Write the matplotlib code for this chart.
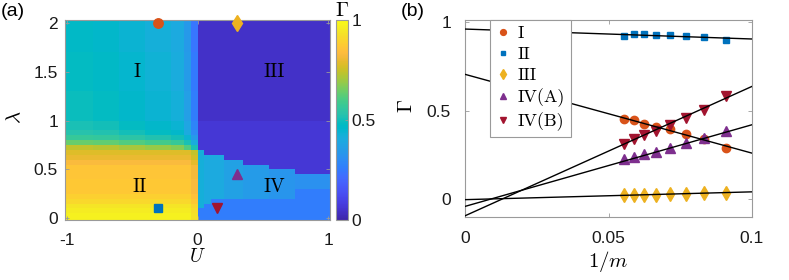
import numpy as np
import matplotlib
matplotlib.use('Agg')
import matplotlib.pyplot as plt
from matplotlib.colors import LinearSegmentedColormap

plt.rcParams['mathtext.fontset'] = 'cm'
plt.rcParams['font.family'] = ['Liberation Sans', 'DejaVu Sans']

# ---------------- data: panel (a) phase diagram ----------------
# U < 0 side: bands in lambda (upper edge of each band) and Gamma
left_lam_upper = [0.05, 0.10, 0.15, 0.20, 0.25, 0.40, 0.55, 0.60, 0.65, 0.70,
                  0.75, 0.80, 0.85, 0.90, 1.00, 1.30, 1.70, 2.10]
left_gamma = [0.97, 0.96, 0.94, 0.91, 0.89, 0.87, 0.86, 0.83, 0.80, 0.78,
              0.71, 0.61, 0.54, 0.50, 0.48, 0.46, 0.45, 0.44]
left_U_upper = [-0.80, -0.60, -0.40, -0.20, -0.10, -0.05, 0.00]
offset_I = [0.03, 0.02, 0.00, -0.02, -0.04, -0.10, -0.20]
offset_II = [0.00, 0.00, 0.00, 0.00, 0.00, 0.00, -0.04]
II_top = 0.70
# U > 0 side
right_U_upper = [0.05, 0.20, 0.35, 0.55, 0.75, 1.10]
IV_top = [0.70, 0.65, 0.60, 0.55, 0.50, 0.45]
IV_upper_gamma = [0.42, 0.40, 0.37, 0.35, 0.33, 0.32]
band_U_upper = [0.05, 0.10, 0.75, 1.10]
band_top = [0.10, 0.15, 0.20, 0.30]
IV_lower_gamma = 0.26
III_lam_upper = [1.00, 2.10]
III_gamma = [0.065, 0.045]

# chosen points
pt_U = [-0.3, -0.3, 0.3, 0.3, 0.15]
pt_lam = [2.0, 0.1, 2.0, 0.45, 0.1]
pt_marker = ['o', 's', 'd', '^', 'v']
pt_size = [6.8, 5.4, 8.5, 7.5, 7.5]

region_text = ['I', 'II', 'III', 'IV']
region_U = [-0.46, -0.44, 0.59, 0.59]
region_lam = [1.5, 0.32, 1.5, 0.32]

# ---------------- data: panel (b) extrapolation ----------------
m_vals = [18, 17, 16, 15, 14, 13, 12, 11]
gamma_I = [0.455, 0.445, 0.424, 0.405, 0.398, 0.369, 0.341, 0.290]
gamma_II = [0.922, 0.930, 0.930, 0.928, 0.926, 0.920, 0.916, 0.899]
gamma_III = [0.023, 0.023, 0.027, 0.027, 0.028, 0.032, 0.036, 0.038]
gamma_IVA = [0.226, 0.240, 0.254, 0.268, 0.291, 0.316, 0.348, 0.384]
gamma_IVB = [0.311, 0.339, 0.360, 0.386, 0.416, 0.458, 0.503, 0.580]
fit_intercept = [0.704, 0.959, -0.002, -0.040, -0.093]
fit_slope = [-4.44, -0.56, 0.44, 4.60, 7.29]
series_labels = ['I', 'II', 'III', 'IV(A)', 'IV(B)']

colors = ['#D95319', '#0072BD', '#EDB120', '#7E2F8E', '#A2142F']

parula_list = [
 [0.2422,0.1504,0.6603],[0.2504,0.1650,0.7076],[0.2578,0.1818,0.7511],[0.2647,0.1978,0.7952],
 [0.2706,0.2147,0.8364],[0.2751,0.2342,0.8710],[0.2783,0.2559,0.8991],[0.2803,0.2782,0.9221],
 [0.2813,0.3006,0.9414],[0.2810,0.3228,0.9579],[0.2795,0.3447,0.9717],[0.2760,0.3667,0.9829],
 [0.2699,0.3892,0.9906],[0.2602,0.4123,0.9952],[0.2440,0.4358,0.9988],[0.2206,0.4603,0.9973],
 [0.1963,0.4847,0.9892],[0.1834,0.5074,0.9798],[0.1786,0.5289,0.9682],[0.1764,0.5499,0.9520],
 [0.1687,0.5703,0.9359],[0.1540,0.5902,0.9218],[0.1460,0.6091,0.9079],[0.1380,0.6276,0.8973],
 [0.1248,0.6459,0.8883],[0.1113,0.6635,0.8763],[0.0952,0.6798,0.8598],[0.0689,0.6948,0.8394],
 [0.0297,0.7082,0.8163],[0.0036,0.7203,0.7917],[0.0067,0.7312,0.7660],[0.0433,0.7411,0.7394],
 [0.0964,0.7500,0.7120],[0.1408,0.7584,0.6842],[0.1717,0.7670,0.6554],[0.1938,0.7758,0.6251],
 [0.2161,0.7843,0.5923],[0.2470,0.7918,0.5567],[0.2906,0.7973,0.5188],[0.3406,0.8008,0.4789],
 [0.3909,0.8029,0.4354],[0.4456,0.8024,0.3909],[0.5044,0.7993,0.3480],[0.5616,0.7942,0.3045],
 [0.6174,0.7876,0.2612],[0.6720,0.7793,0.2227],[0.7242,0.7698,0.1910],[0.7738,0.7598,0.1646],
 [0.8203,0.7498,0.1535],[0.8634,0.7406,0.1596],[0.9035,0.7330,0.1774],[0.9393,0.7288,0.2100],
 [0.9728,0.7298,0.2394],[0.9956,0.7434,0.2371],[0.9970,0.7659,0.2199],[0.9952,0.7893,0.2028],
 [0.9892,0.8136,0.1885],[0.9786,0.8386,0.1766],[0.9676,0.8639,0.1643],[0.9610,0.8890,0.1537],
 [0.9597,0.9135,0.1423],[0.9628,0.9373,0.1265],[0.9691,0.9606,0.1064],[0.9769,0.9839,0.0805]]
parula = LinearSegmentedColormap.from_list('parula', parula_list, N=256)

# ---------------- build grid ----------------
U_edges = np.round(np.arange(-1.05, 1.0501, 0.05), 4)
lam_edges = np.round(np.arange(-0.05, 2.0501, 0.05), 4)
Uc = 0.5 * (U_edges[:-1] + U_edges[1:])
Lc = 0.5 * (lam_edges[:-1] + lam_edges[1:])


def pick(uppers, vals, x):
    i = int(np.searchsorted(uppers, x, side='right'))
    return vals[min(i, len(vals) - 1)]


Z = np.zeros((len(Lc), len(Uc)))
for j, lc in enumerate(Lc):
    for i, uc in enumerate(Uc):
        if uc < 0:
            base = pick(left_lam_upper, left_gamma, lc)
            if lc < II_top:
                Z[j, i] = base + pick(left_U_upper, offset_II, uc)
            else:
                Z[j, i] = base + pick(left_U_upper, offset_I, uc)
        else:
            if lc < pick(band_U_upper, band_top, uc):
                Z[j, i] = IV_lower_gamma
            elif lc < pick(right_U_upper, IV_top, uc):
                Z[j, i] = pick(right_U_upper, IV_upper_gamma, uc)
            else:
                Z[j, i] = pick(III_lam_upper, III_gamma, lc)

# ---------------- figure ----------------
W, H = 789, 280
fig = plt.figure(figsize=(W / 100, H / 100), dpi=100)


def fx(px):
    return px / W


def fy(py):
    return 1 - py / H


frame_col = '#9a9a9a'
text_col = '#1a1a1a'
serif = ['cmr10', 'DejaVu Serif']

ax1 = fig.add_axes([fx(65), fy(220), fx(265), 200 / H])
mesh = ax1.pcolormesh(U_edges, lam_edges, Z, cmap=parula, vmin=0, vmax=1,
                      shading='flat', rasterized=True)
ax1.set_xlim(-1.015, 1.015)
ax1.set_ylim(-0.018, 2.032)
ax1.set_xticks([-1, 0, 1])
ax1.set_xticklabels(['-1', '0', '1'])
ax1.set_yticks([0, 0.5, 1, 1.5, 2])
ax1.set_yticklabels(['0', '0.5', '1', '1.5', '2'])
ax1.tick_params(direction='in', length=3, width=0.6, color=frame_col,
                labelsize=12.5, labelcolor=text_col, top=True, right=True)
ax1.tick_params(axis='x', pad=9.5)
ax1.tick_params(axis='y', pad=5)
for s in ax1.spines.values():
    s.set_color(frame_col)
    s.set_linewidth(0.8)

for u, l, mk, ms, c in zip(pt_U, pt_lam, pt_marker, pt_size, colors):
    ax1.plot(u, l, mk, color=c, mec=c, ms=ms, clip_on=False, zorder=5)
for t, u, l in zip(region_text, region_U, region_lam):
    ax1.text(u, l, t, ha='center', va='center', family=serif,
             fontsize=14, color='black')

cax = fig.add_axes([fx(335.5), fy(220), fx(12), 200 / H])
cb = fig.colorbar(mesh, cax=cax, ticks=[0, 0.5, 1])
cb.ax.set_yticklabels(['0', '0.5', '1'])
cb.outline.set_edgecolor(frame_col)
cb.outline.set_linewidth(0.8)
cax.tick_params(direction='in', length=2, width=0.6, color=frame_col,
                labelsize=12.5, labelcolor=text_col, pad=3)

fig.text(fx(342), fy(11), r'$\Gamma$', fontsize=15, ha='center', va='center')
fig.text(fx(197), fy(257), r'$U$', fontsize=14, ha='center', va='center')
fig.text(fx(15), fy(117), r'$\lambda$', fontsize=15, ha='center', va='center',
         rotation=90)
fig.text(fx(1), fy(12), '(a)', fontsize=14, ha='left', va='center')

# ---------------- panel (b) ----------------
ax2 = fig.add_axes([fx(465), fy(216.7), fx(287), 196.7 / H])
inv_m = 1.0 / np.array(m_vals, dtype=float)
series = [gamma_I, gamma_II, gamma_III, gamma_IVA, gamma_IVB]
ms2 = [6.0, 5.0, 7.0, 6.5, 6.5]
handles = []
for g, mk, c, lab, ms in zip(series, pt_marker, colors, series_labels, ms2):
    h, = ax2.plot(inv_m, g, mk, color=c, mec=c, ms=ms, ls='none',
                  label=lab, zorder=3)
    handles.append(h)
xfit = np.array([0.0, 0.1])
for b, a in zip(fit_intercept, fit_slope):
    ax2.plot(xfit, b + a * xfit, '-', color='black', lw=1.0, zorder=4)

ax2.set_xlim(0, 0.1)
ax2.set_ylim(-0.098, 1.01)
ax2.set_xticks([0, 0.05, 0.1])
ax2.set_xticklabels(['0', '0.05', '0.1'])
ax2.set_yticks([0, 0.5, 1])
ax2.set_yticklabels(['0', '0.5', '1'])
ax2.tick_params(direction='in', length=3, width=0.6, color=frame_col,
                labelsize=12.5, labelcolor=text_col, top=True, right=True)
ax2.tick_params(axis='x', pad=10)
ax2.tick_params(axis='y', pad=10)
for s in ax2.spines.values():
    s.set_color(frame_col)
    s.set_linewidth(0.8)

leg = ax2.legend(handles=handles, loc='upper left',
                 bbox_to_anchor=((490 - 465) / 287, 1.0), borderaxespad=0,
                 frameon=True, fancybox=False, framealpha=1, edgecolor=frame_col,
                 prop={'family': serif, 'size': 13}, markerscale=0.7,
                 handlelength=0.8, handletextpad=0.45, labelspacing=0.3,
                 borderpad=0.3)
leg.get_frame().set_linewidth(0.8)
leg.set_zorder(10)

fig.text(fx(608), fy(262), r'$1/m$', fontsize=15, ha='center', va='center')
fig.text(fx(406), fy(106), r'$\Gamma$', fontsize=15, ha='center', va='center',
         rotation=90)
fig.text(fx(401), fy(12), '(b)', fontsize=14, ha='left', va='center')

fig.savefig('out.png', dpi=100)
